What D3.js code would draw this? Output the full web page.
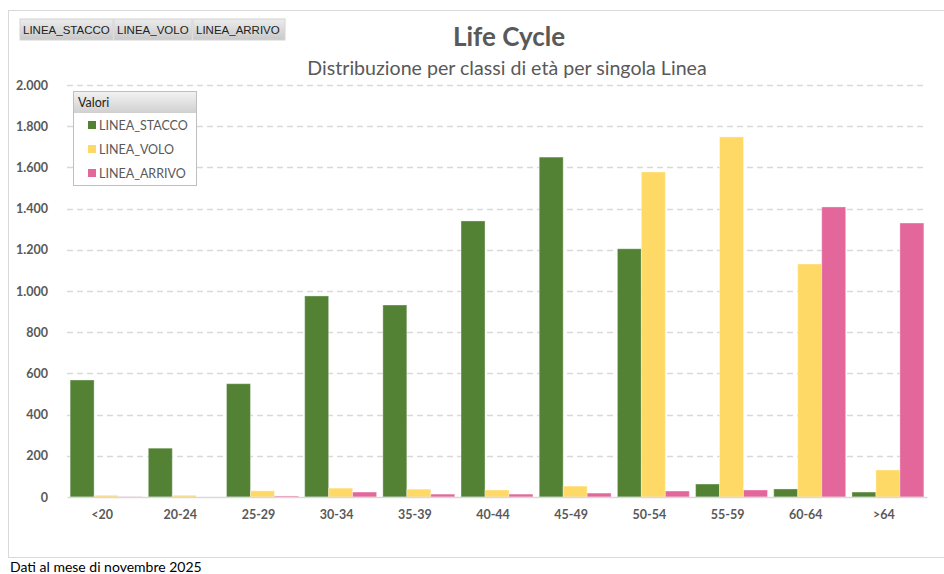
<!DOCTYPE html>
<html>
<head>
<meta charset="utf-8">
<script src="https://cdn.jsdelivr.net/npm/d3@7"></script>
<style>
  body { margin: 0; background: #fff; }
  svg { display: block; }
</style>
</head>
<body>
<svg width="944" height="574"></svg>
<script>
var categories = ["<20", "20-24", "25-29", "30-34", "35-39", "40-44", "45-49", "50-54", "55-59", "60-64", ">64"];
var seriesNames = ["LINEA_STACCO", "LINEA_VOLO", "LINEA_ARRIVO"];
var stacco = [568, 237, 550, 976, 932, 1340, 1650, 1205, 63, 39, 24];
var volo = [8, 8, 30, 43, 38, 34, 53, 1578, 1748, 1131, 131];
var arrivo = [1, 0, 5, 24, 14, 14, 19, 29, 34, 1408, 1330];
var yTicks = [0, 200, 400, 600, 800, 1000, 1200, 1400, 1600, 1800, 2000];

var svg = d3.select("svg"),
    font = "Lato, 'Open Sans', sans-serif",
    textColor = "#595959";

var color = d3.scaleOrdinal(seriesNames, ["#548235", "#ffd966", "#e3679b"]);

var rows = categories.map(function(c, i) {
    return { cat: c, values: [stacco[i], volo[i], arrivo[i]] };
});

// frame
svg.append("rect")
    .attr("x", 8.5).attr("y", 10.5)
    .attr("width", 960).attr("height", 547)
    .attr("fill", "none").attr("stroke", "#d9d9d9");

// pivot buttons
var defs = svg.append("defs");
var bg = defs.append("linearGradient").attr("id", "btn").attr("x1", 0).attr("x2", 0).attr("y1", 0).attr("y2", 1);
bg.append("stop").attr("offset", 0).attr("stop-color", "#ececec");
bg.append("stop").attr("offset", 1).attr("stop-color", "#c9c9c9");

var btnX = [20, 114, 193], btnW = [93, 78, 92];
seriesNames.forEach(function(n, i) {
    svg.append("rect").attr("x", btnX[i]).attr("y", 19).attr("width", btnW[i]).attr("height", 21)
        .attr("fill", "url(#btn)").attr("stroke", "#d4d4d4");
    svg.append("text").attr("x", btnX[i] + 3).attr("y", 34)
        .attr("font-family", "'Liberation Sans', Arial, sans-serif").attr("font-size", 11.5)
        .attr("fill", "#222").text(n);
});

// titles
svg.append("text").attr("x", 509).attr("y", 46).attr("text-anchor", "middle")
    .attr("font-family", font).attr("font-weight", "bold").attr("font-size", 26)
    .attr("fill", textColor).text("Life Cycle");
svg.append("text").attr("x", 507).attr("y", 75).attr("text-anchor", "middle")
    .attr("font-family", font).attr("font-size", 19.6)
    .attr("fill", textColor).text("Distribuzione per classi di età per singola Linea");

var x = d3.scaleBand().domain(categories).range([67, 927]).paddingInner(0.08).paddingOuter(0.04);
var x1 = d3.scaleBand().domain(seriesNames).range([0, x.bandwidth()]);
var y = d3.scaleLinear().domain([0, 2000]).range([497, 85]);

// grid
svg.append("g").selectAll("line").data(yTicks.slice(1)).enter().append("line")
    .attr("x1", 67).attr("x2", 927)
    .attr("y1", function(d) { return Math.round(y(d)) + 0.5; })
    .attr("y2", function(d) { return Math.round(y(d)) + 0.5; })
    .attr("stroke", "#d9d9d9").attr("stroke-width", 1.3).attr("stroke-dasharray", "6,4");

// y axis labels
var yAxis = svg.append("g").attr("transform", "translate(60,0)")
    .call(d3.axisLeft(y).tickValues(yTicks).tickSize(0).tickPadding(12)
        .tickFormat(function(d) { return d3.format(",")(d).replace(/,/g, "."); }));
yAxis.select(".domain").remove();
yAxis.selectAll("text").attr("font-family", font).attr("font-weight", "bold")
    .attr("font-size", 12.5).attr("fill", textColor);

// bars
var grp = svg.append("g").selectAll("g").data(rows).enter().append("g")
    .attr("transform", function(d) { return "translate(" + x(d.cat) + ",0)"; });
grp.selectAll("rect").data(function(d) {
        return d.values.map(function(v, i) { return { key: seriesNames[i], value: v }; });
    }).enter().append("rect")
    .attr("x", function(d) { return x1(d.key); })
    .attr("y", function(d) { return y(d.value); })
    .attr("width", x1.bandwidth())
    .attr("height", function(d) { return y(0) - y(d.value); })
    .attr("fill", function(d) { return color(d.key); })
    .attr("stroke", "#ffffff").attr("stroke-opacity", 0.35).attr("stroke-width", 1);

// x axis
var xAxis = svg.append("g").attr("transform", "translate(0,497)")
    .call(d3.axisBottom(x).tickSize(0).tickPadding(13));
xAxis.select(".domain").attr("stroke", "#d9d9d9").attr("stroke-width", 1.5);
xAxis.selectAll("text").attr("font-family", font).attr("font-weight", "bold")
    .attr("font-size", 12.5).attr("fill", textColor).attr("dx", -4);

// legend
var lg = svg.append("g").attr("transform", "translate(73,91)");
var lgrad = defs.append("linearGradient").attr("id", "lhead").attr("x1", 0).attr("x2", 0).attr("y1", 0).attr("y2", 1);
lgrad.append("stop").attr("offset", 0).attr("stop-color", "#f2f2f2");
lgrad.append("stop").attr("offset", 1).attr("stop-color", "#d0d0d0");
lg.append("rect").attr("x", 0.5).attr("y", 0.5).attr("width", 123).attr("height", 94)
    .attr("fill", "#fff").attr("stroke", "#bfbfbf");
lg.append("rect").attr("x", 1).attr("y", 1).attr("width", 122).attr("height", 21)
    .attr("fill", "url(#lhead)");
lg.append("text").attr("x", 5).attr("y", 16).attr("font-family", font).attr("font-size", 12.5)
    .attr("fill", "#222").text("Valori");
var li = lg.selectAll(".item").data(seriesNames).enter().append("g")
    .attr("transform", function(d, i) { return "translate(0," + (34 + i * 24) + ")"; });
li.append("rect").attr("x", 15).attr("y", -4).attr("width", 8).attr("height", 8)
    .attr("fill", function(d) { return color(d); });
li.append("text").attr("x", 26).attr("y", 4.5).attr("font-family", font).attr("font-size", 12.5)
    .attr("fill", textColor).text(function(d) { return d; });

// footer
svg.append("text").attr("x", 10).attr("y", 572).attr("font-family", font).attr("font-size", 14)
    .attr("fill", "#000").text("Dati al mese di novembre 2025");
</script>
</body>
</html>
